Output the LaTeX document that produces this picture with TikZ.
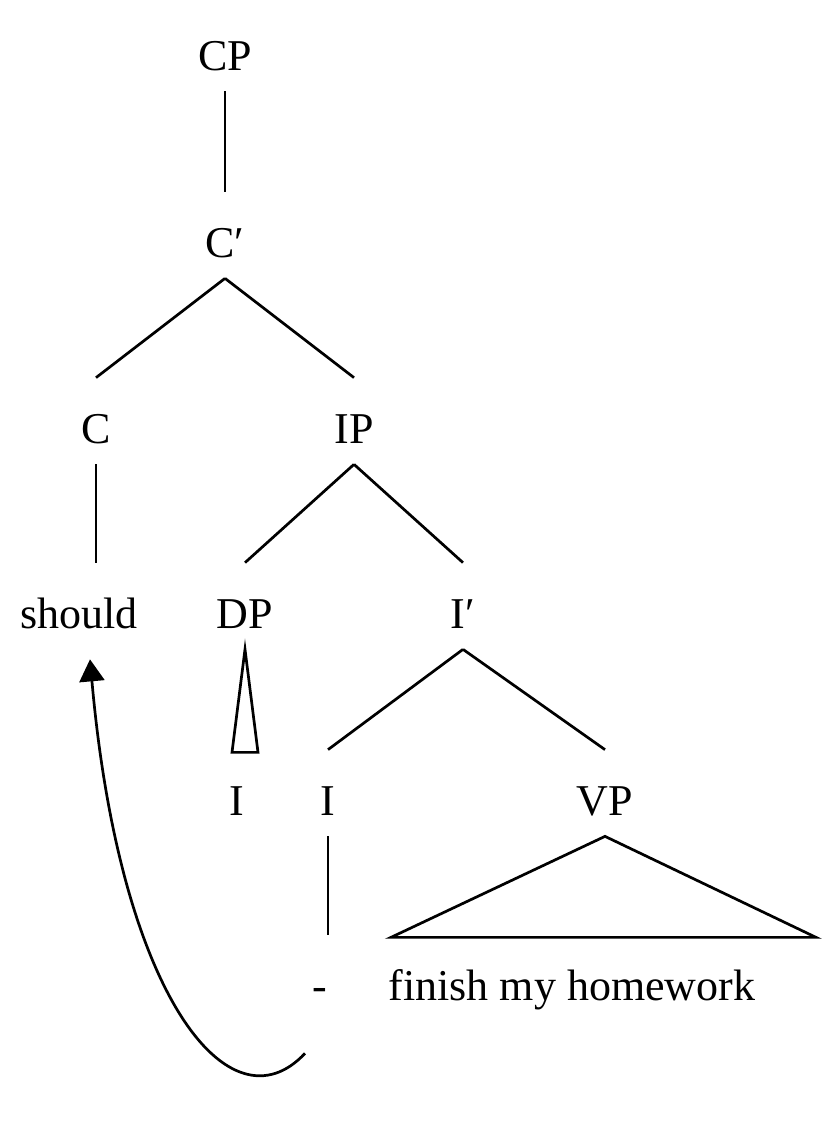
\documentclass[tikz,border=0pt]{standalone}
\usepackage{fontspec}
\setmainfont{Liberation Serif}
\usetikzlibrary{arrows.meta}
\begin{document}
\begin{tikzpicture}[x=1pt,y=-1pt,line width=2.7pt,
 lbl/.style={inner sep=0pt,text height=64pt,text depth=20pt,anchor=base,font=\fontsize{44}{53}\selectfont}]
\fill[white] (0,0) rectangle (840,1130);
\useasboundingbox (0,0) rectangle (840,1130);
\path (225,70) node[lbl] (CP) {CP} ++(0,187) node[lbl] (Cb) {C′}
 (96,443) node[lbl] (C) {C} (354,443) node[lbl] (IP) {IP}
 (79,628) node[lbl] (should) {should} (245,628) node[lbl] (DP) {DP} (463,628) node[lbl] (Ib) {I′}
 (237,815) node[lbl] (Id) {I} (328,815) node[lbl] (I) {I} (605,815) node[lbl] (VP) {VP}
 (320,1000) node[lbl] (gap) {-} (572,1000) node[lbl] (fmh) {finish my homework};
\foreach \d/\dd in {CP/Cb, Cb/C, Cb/IP, IP/DP, IP/Ib, Ib/I, Ib/VP} \draw (\d.south) -- (\dd.north);
\draw (C.south) -- (C.south |- should.north) (I.south) -- (I.south |- gap.north);
\draw (DP.south) -- ++(-13,103) -- ++(26,0) -- cycle;
\draw (VP.south) -- ++(-214,101) -- ++(425,0) -- cycle;
\draw[-{Triangle[width=25pt,length=22pt]}] ([shift={(-15,32)}]gap.south) .. controls +(-75,80) and +(30,338) .. ([shift={(11,10)}]should.south);
\end{tikzpicture}
\end{document}
